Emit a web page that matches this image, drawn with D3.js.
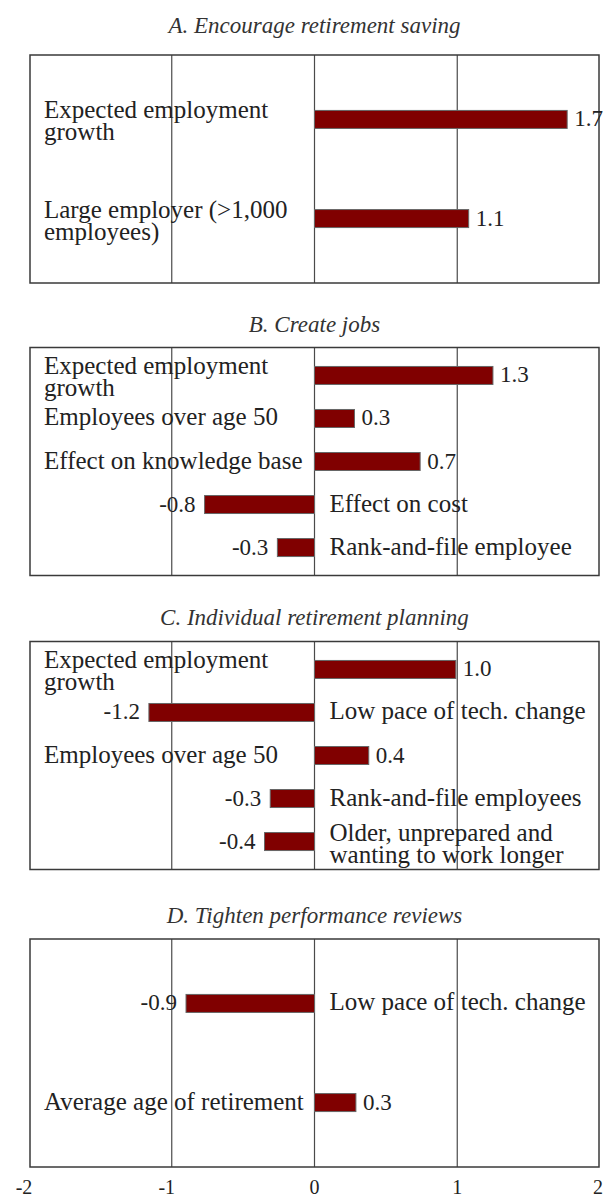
<!DOCTYPE html>
<html>
<head>
<meta charset="utf-8">
<script src="https://cdn.jsdelivr.net/npm/d3@7"></script>
<style>
  body { margin: 0; background: #fff; }
  svg { display: block; }
  .title { font-family: "Liberation Serif", serif; font-style: italic; font-size: 23px; fill: #333; }
  .cat { font-family: "Liberation Serif", serif; font-size: 25px; fill: #222; }
  .val { font-family: "Liberation Serif", serif; font-size: 23px; fill: #222; }
  .tick-label { font-family: "Liberation Serif", serif; font-size: 20px; fill: #222; }
  .frame { fill: none; stroke: #3a3a3a; stroke-width: 1.5; }
  .grid { stroke: #4a4a4a; stroke-width: 1.2; }
  .bar { fill: #800000; stroke: #666; stroke-width: 1; }
</style>
</head>
<body>
<div id="chart-area"></div>
<script>
// chart data, one set of arrays per panel

const panelTitles = [
    "A. Encourage retirement saving",
    "B. Create jobs",
    "C. Individual retirement planning",
    "D. Tighten performance reviews"
];

const aCategories = ["Expected employment\ngrowth", "Large employer (>1,000\nemployees)"];
const aValues = [1.77, 1.08];
const aLabels = ["1.7", "1.1"];

const bCategories = ["Expected employment\ngrowth", "Employees over age 50", "Effect on knowledge base",
    "Effect on cost", "Rank-and-file employee"];
const bValues = [1.25, 0.28, 0.74, -0.77, -0.26];
const bLabels = ["1.3", "0.3", "0.7", "-0.8", "-0.3"];

const cCategories = ["Expected employment\ngrowth", "Low pace of tech. change", "Employees over age 50",
    "Rank-and-file employees", "Older, unprepared and\nwanting to work longer"];
const cValues = [0.99, -1.16, 0.38, -0.31, -0.35];
const cLabels = ["1.0", "-1.2", "0.4", "-0.3", "-0.4"];

const dCategories = ["Low pace of tech. change", "Average age of retirement"];
const dValues = [-0.90, 0.29];
const dLabels = ["-0.9", "0.3"];

const xTicks = [-2, -1, 0, 1, 2];

const WIDTH = 609;
const HEIGHT = 1197;

// layout of the four boxes
const panelTops = [55, 347.5, 641.5, 939];
const titleBaselines = [33, 332, 625, 923];
const PANEL_H = 228;
const BAR_H = 18;

let svg = d3.select("#chart-area").append("svg")
    .attr("width", WIDTH)
    .attr("height", HEIGHT);

let x = d3.scaleLinear().domain([-2, 2]).range([29, 600]);

const panels = [
    { cats: aCategories, vals: aValues, labels: aLabels },
    { cats: bCategories, vals: bValues, labels: bLabels },
    { cats: cCategories, vals: cValues, labels: cLabels },
    { cats: dCategories, vals: dValues, labels: dLabels }
];

panels.forEach((p, i) => {
    const top = panelTops[i];
    const bottom = top + PANEL_H;
    const g = svg.append("g");

    g.append("text")
        .attr("class", "title")
        .attr("x", x(0))
        .attr("y", titleBaselines[i])
        .attr("text-anchor", "middle")
        .text(panelTitles[i]);

    // gridlines at -1, 0, 1
    g.selectAll(".grid")
        .data([-1, 0, 1])
        .enter().append("line")
        .attr("class", "grid")
        .attr("x1", d => x(d)).attr("x2", d => x(d))
        .attr("y1", top).attr("y2", bottom);

    g.append("rect")
        .attr("class", "frame")
        .attr("x", x(-2) + 1)
        .attr("y", top)
        .attr("width", x(2) - x(-2) - 2)
        .attr("height", PANEL_H);

    let y = d3.scalePoint()
        .domain(p.cats)
        .range([top, bottom])
        .padding(0.65);

    const rows = p.cats.map((c, j) => ({ cat: c, v: p.vals[j], label: p.labels[j] }));

    g.selectAll(".bar")
        .data(rows)
        .enter().append("rect")
        .attr("class", "bar")
        .attr("x", d => x(Math.min(0, d.v)))
        .attr("width", d => Math.abs(x(d.v) - x(0)))
        .attr("y", d => y(d.cat) - BAR_H / 2)
        .attr("height", BAR_H);

    // numbers next to the bar ends
    g.selectAll(".val")
        .data(rows)
        .enter().append("text")
        .attr("class", "val")
        .attr("x", d => d.v >= 0 ? x(d.v) + 7 : x(d.v) - 9)
        .attr("y", d => y(d.cat) + 7)
        .attr("text-anchor", d => d.v >= 0 ? "start" : "end")
        .text(d => d.label);

    // category names: left side for positive bars, right of zero for negative ones
    rows.forEach(d => {
        const lines = d.cat.split("\n");
        const t = g.append("text")
            .attr("class", "cat")
            .attr("text-anchor", "start");
        const tx = d.v >= 0 ? 44 : x(0) + 15;
        const firstY = y(d.cat) + 7 - (lines.length - 1) * 8;
        lines.forEach((line, k) => {
            t.append("tspan")
                .attr("x", tx)
                .attr("y", firstY + k * 22)
                .text(line);
        });
    });
});

// shared x tick labels below the last box
svg.selectAll(".tick-label")
    .data(xTicks)
    .enter().append("text")
    .attr("class", "tick-label")
    .attr("x", d => x(d) + (d < 0 ? -5 : d === 2 ? -2 : 0))
    .attr("y", 1194)
    .attr("text-anchor", "middle")
    .text(d => d);
</script>
</body>
</html>
